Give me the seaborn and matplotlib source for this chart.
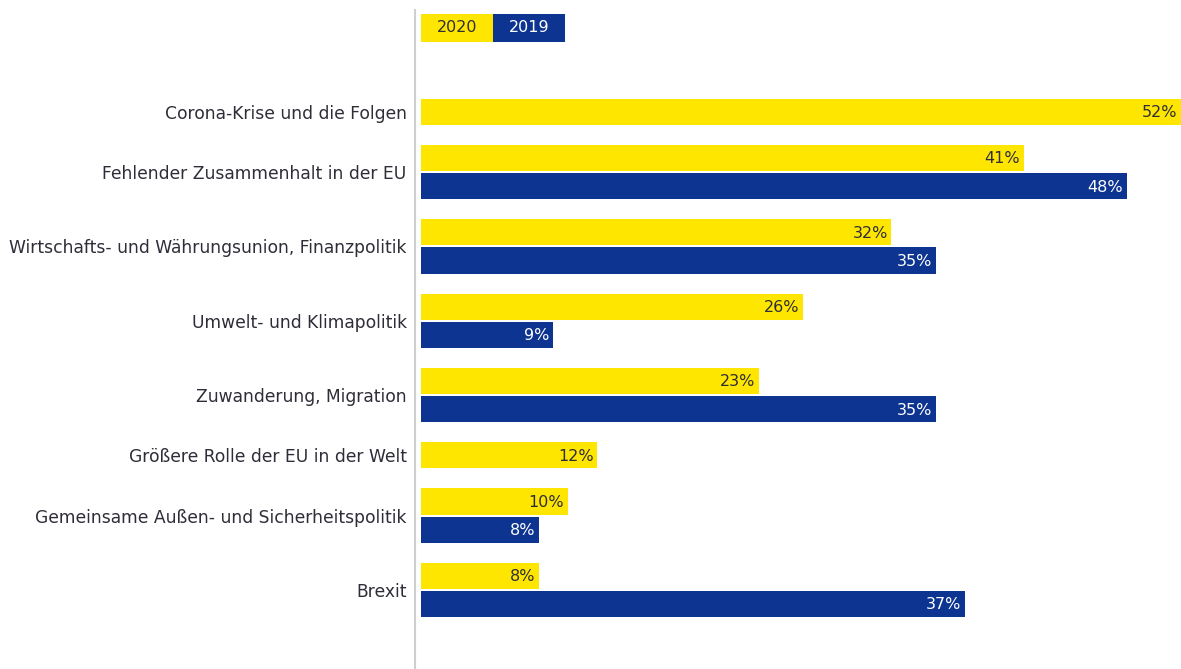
import matplotlib
matplotlib.use('Agg')
import matplotlib.pyplot as plt
from matplotlib.patches import Rectangle
import seaborn as sns
import pandas as pd

categories = ['Corona-Krise und die Folgen',
              'Fehlender Zusammenhalt in der EU',
              'Wirtschafts- und Währungsunion, Finanzpolitik',
              'Umwelt- und Klimapolitik',
              'Zuwanderung, Migration',
              'Größere Rolle der EU in der Welt',
              'Gemeinsame Außen- und Sicherheitspolitik',
              'Brexit']
values_2020 = [52, 41, 32, 26, 23, 12, 10, 8]
values_2019 = [None, 48, 35, 9, 35, None, 8, 37]
years = ['2020', '2019']

YELLOW = '#ffe600'
BLUE = '#0c3490'
DARK = '#2e2e38'

# stack the bars of each topic, skipping missing years, with a gap between topics
rows = []
centers = []
pos = 0.0
for cat, a, b in zip(categories, values_2020, values_2019):
    group = []
    for year, v in zip(years, [a, b]):
        if v is None:
            continue
        rows.append({'cat': cat, 'year': year, 'value': v, 'pos': pos})
        group.append(pos)
        pos += 1.0
    centers.append(sum(group) / len(group))
    pos += 0.64
df = pd.DataFrame(rows)

sns.set_style('white')
plt.rcParams['font.family'] = ['DejaVu Sans']

fig = plt.figure(figsize=(11.81, 6.69), dpi=100)
ax = fig.add_axes([415 / 1181, 0, 766 / 1181, 659 / 669])

sns.barplot(data=df, x='value', y='pos', hue='year', orient='y', native_scale=True,
            dodge=False, width=0.93, hue_order=years,
            palette={'2020': YELLOW, '2019': BLUE}, saturation=1,
            errorbar=None, legend=False, linewidth=0, ax=ax)

ax.set_xlim(-0.41, 51.7)
ax.set_ylim(19.79, -3.62)
ax.set_xlabel('')
ax.set_ylabel('')
ax.set_xticks([])
ax.set_yticks(centers, labels=categories)
ax.tick_params(axis='y', length=0, pad=6, labelsize=12.3, labelcolor=DARK)
for s in ['top', 'right', 'bottom']:
    ax.spines[s].set_visible(False)
ax.spines['left'].set_color('#cfcfcf')
ax.spines['left'].set_linewidth(1.5)

for p in ax.patches:
    w = p.get_width()
    if w <= 0:
        continue
    cy = p.get_y() + p.get_height() / 2 + 0.03
    col = DARK if p.get_facecolor()[0] > 0.5 else 'white'
    x_end = min(w, 51.7)
    ax.text(x_end - 0.25, cy, f'{w:.0f}%', ha='right', va='center', fontsize=11.5, color=col)

# legend boxes
for i, (year, col, tc) in enumerate([('2020', YELLOW, DARK), ('2019', BLUE, 'white')]):
    x0 = (421 + 72 * i) / 1181
    fig.patches.append(Rectangle((x0, 1 - 42 / 669), 72 / 1181, 28 / 669,
                                 transform=fig.transFigure, facecolor=col, edgecolor='none'))
    fig.text(x0 + 36 / 1181, 1 - 28 / 669, year, ha='center', va='center',
             fontsize=11.5, color=tc)

fig.savefig('out.png', dpi=100)
